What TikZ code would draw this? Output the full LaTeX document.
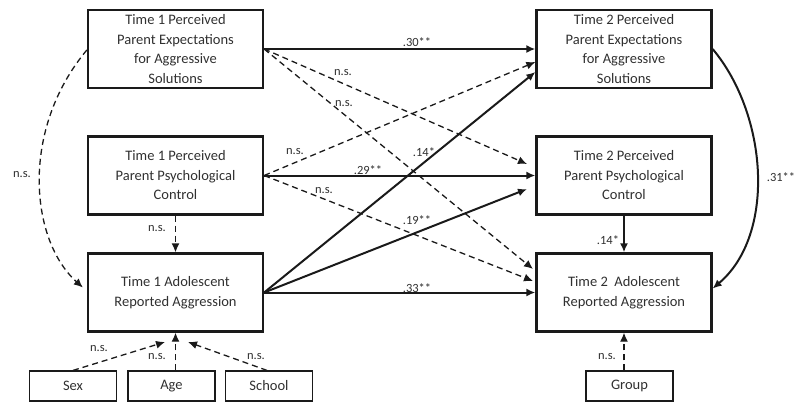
\documentclass[tikz,border=0pt]{standalone}
\usepackage{fontspec}
\setmainfont{Carlito}
\usetikzlibrary{arrows.meta}
\definecolor{txt}{HTML}{303030}
\definecolor{ln}{HTML}{1A1A1A}
\begin{document}
\begin{tikzpicture}[x=1pt,y=-1pt,
  bigbox/.style={draw=ln,line width=2.3pt,minimum width=175pt,minimum height=78pt,align=center,text=txt,font=\fontsize{14.5}{19.5}\selectfont,inner sep=0pt},
  smallbox/.style={draw=ln,line width=1.2pt,minimum width=87pt,minimum height=30pt,text=txt,font=\fontsize{14.5}{16}\selectfont,inner sep=0pt},
  sarrow/.style={draw=ln,line width=2pt,-{Latex[length=9pt,width=8pt]}},
  darrow/.style={draw=ln,line width=1.3pt,dash pattern=on 6pt off 4pt,-{Latex[length=9pt,width=8pt]}},
  lab/.style={text=txt,font=\fontsize{12.5}{13}\selectfont,inner sep=0pt}]
\useasboundingbox (0,0) rectangle (796,405);
% boxes
\node[bigbox] (t1pe) at (175.5,49) {Time 1 Perceived\\Parent Expectations\\for Aggressive\\Solutions};
\node[bigbox] (t1pc) at (175.5,175.5) {Time 1 Perceived\\Parent Psychological\\Control};
\node[bigbox] (t1ar) at (175.5,292.5) {Time 1 Adolescent\\Reported Aggression};
\node[bigbox] (t2pe) at (624,49) {Time 2 Perceived\\Parent Expectations\\for Aggressive\\Solutions};
\node[bigbox] (t2pc) at (624,175.5) {Time 2 Perceived\\Parent Psychological\\Control};
\node[bigbox] (t2ar) at (624,292.5) {Time 2~ Adolescent\\Reported Aggression};
\node[smallbox] (sex) at (73,386) {Sex};
\node[smallbox] (age) at (171.5,386) {Age};
\node[smallbox] (school) at (269,386) {School};
\node[smallbox] (group) at (629.5,386) {Group};
% end coordinates
\coordinate (e1) at (527,164);
\coordinate (e2) at (533,269);
\coordinate (e3) at (533,281);
\coordinate (e4) at (527,189);
\coordinate (sexend) at (165,342);
\coordinate (schend) at (188,342);
% arrows from T1PE
\draw[sarrow] (t1pe.east) -- (t2pe.west);
\draw[darrow] (t1pe.east) -- (e1);
\draw[darrow] (t1pe.east) -- (e2);
% arrows from T1PC
\draw[sarrow] (t1pc.east) -- (t2pc.west);
\draw[darrow] (t1pc.east) -- ([yshift=-13pt]t2pe.west);
\draw[darrow] (t1pc.east) -- (e3);
% arrows from T1AR
\draw[sarrow] (t1ar.east) -- ([yshift=-23pt]t2pe.west);
\draw[sarrow] (t1ar.east) -- (e4);
\draw[sarrow] (t1ar.east) -- (t2ar.west);
% vertical
\draw[sarrow] (t2pc.south) -- (t2ar.north);
\draw[darrow] (t1pc.south) -- (t1ar.north);
% curves
\draw[sarrow] (t2pe.east) .. controls (768,115) and (776,235) .. ([yshift=4pt]t2ar.east);
\draw[darrow] ([yshift=-1pt]t1pe.west) .. controls (20,130) and (30,240) .. ([xshift=-4pt,yshift=5pt]t1ar.west);
% covariates
\draw[darrow] (sex.north) -- (sexend);
\draw[darrow] (age.north -| t1ar.south) -- (t1ar.south);
\draw[darrow] ([xshift=-2pt]school.north) -- (schend);
\draw[darrow] (group.north -| t2ar.south) -- (t2ar.south);
% labels
\node[lab] at (417,42) {.30**};
\node[lab] at (343,73) {n.s.};
\node[lab] at (344,104) {n.s.};
\node[lab] at (295,152) {n.s.};
\node[lab] at (368,170) {.29**};
\node[lab] at (324,191) {n.s.};
\node[lab] at (424,152) {.14*};
\node[lab] at (417,220) {.19**};
\node[lab] at (417,288) {.33**};
\node[lab] at (608,240) {.14*};
\node[lab] at (781,177) {.31**};
\node[lab] at (22,175) {n.s.};
\node[lab] at (157,229) {n.s.};
\node[lab] at (99,349) {n.s.};
\node[lab] at (157,357) {n.s.};
\node[lab] at (256,357) {n.s.};
\node[lab] at (607,357) {n.s.};
\end{tikzpicture}
\end{document}
